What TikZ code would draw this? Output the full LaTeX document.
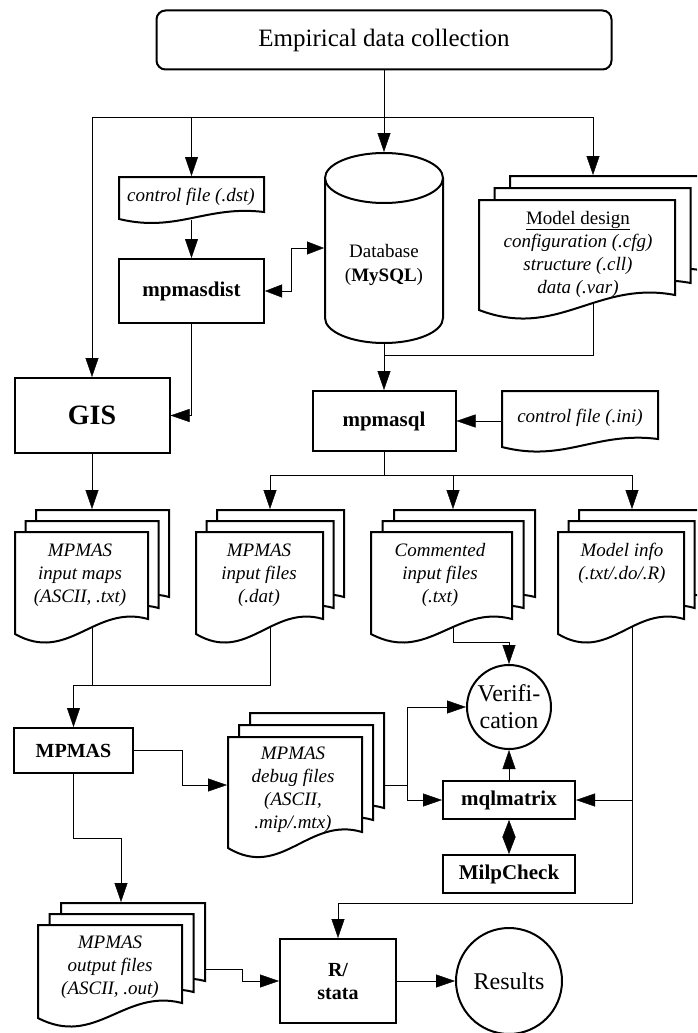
\documentclass[tikz,border=0pt]{standalone}
\usepackage{fontspec}
\setmainfont{Liberation Serif}
\usetikzlibrary{arrows.meta,fit,backgrounds}
\tikzset{
 arr/.style={-{Triangle[length=19pt,width=13pt]}},
 darr/.style={{Triangle[length=17pt,width=13pt]}-{Triangle[length=17pt,width=13pt]}},
 box/.style={draw, rectangle, inner sep=0pt, font=\fontsize{21}{25}\selectfont\bfseries},
 pg/.style={draw, fill=white},
 txt/.style={align=center, font=\fontsize{19}{23}\selectfont\itshape, inner sep=0pt},
}
\newcommand\docpg[6]{%
 \pgfmathsetmacro\pgXa{#2}\pgfmathsetmacro\pgYa{#3}\pgfmathsetmacro\pgXb{#4}\pgfmathsetmacro\pgYb{#5}\pgfmathsetmacro\pgAm{#6}%
 \pgfmathsetmacro\pgCa{\pgXa+0.6*(\pgXb-\pgXa)}\pgfmathsetmacro\pgCb{\pgXa+0.4*(\pgXb-\pgXa)}%
 \draw[pg] (\pgXa,\pgYa) -- (\pgXb,\pgYa) -- (\pgXb,\pgYb-\pgAm) .. controls (\pgCa,\pgYb-2*\pgAm) and (\pgCb,\pgYb+2*\pgAm) .. (\pgXa,\pgYb) -- cycle;
 \node[inner sep=0pt, fit={(\pgXa,\pgYa) (\pgXb,\pgYb)}] (#1) {};}
\newcommand\docstack[8]{%
 \docpg{#1-b}{#2+2*#7}{#3-2*#8}{#4+2*#7}{#5-2*#8}{#6}%
 \docpg{#1-m}{#2+#7}{#3-#8}{#4+#7}{#5-#8}{#6}%
 \docpg{#1}{#2}{#3}{#4}{#5}{#6}}
\begin{document}
\begin{tikzpicture}[x=1pt,y=-1pt,line width=2pt]
\useasboundingbox (0,0) rectangle (697,1033);
\clip (0,0) rectangle (697,1033);
% top
\node[draw, rounded corners=9pt, minimum width=455pt, minimum height=59pt, font=\fontsize{25}{30}\selectfont] (emp) at (384,40) {Empirical data collection};
% control file dst
\docpg{dst}{119}{177}{264}{219}{7}
\node[txt] (dstt) at (191,197) {control file (.dst)};
\node[box, minimum width=145pt, minimum height=64pt] (dist) at (191.5,291) {mpmasdist};
% database
\draw[pg] (325,178) -- (325,318) arc[start angle=180, end angle=0, x radius=59, y radius=25] -- (443,178);
\draw[pg] (384,178) ellipse[x radius=59, y radius=25];
\node[inner sep=0pt, minimum width=118pt, minimum height=190pt] (db) at (384,248) {};
\node[align=center, inner sep=0pt, font=\fontsize{19}{24}\selectfont] (dbt) at (384,265) {Database\\(\textbf{MySQL})};
% model design
\docstack{md}{479}{200}{675}{310}{15}{15.5}{12}
\node[align=center, inner sep=0pt, font=\fontsize{19}{23}\selectfont] (mdt) at (578,254) {\underline{Model design}\\\textit{configuration (.cfg)}\\\textit{structure (.cll)}\\\textit{data (.var)}};
% GIS, mpmasql, ini
\node[box, minimum width=155pt, minimum height=75pt, font=\fontsize{28}{30}\selectfont\bfseries] (gis) at (92,415.5) {GIS};
\node[box, minimum width=143pt, minimum height=60pt] (sql) at (384,421) {mpmasql};
\docpg{ini}{502}{391}{658}{447}{8}
\node[txt] (init) at (580,418) {control file (.ini)};
% row 2 stacks
\docstack{maps}{15}{532}{148}{634}{15}{10.5}{11}
\node[txt] (mapst) at (80,575) {MPMAS\\input maps\\(ASCII, .txt)};
\docstack{files}{196}{532}{323}{634}{15}{10.5}{11}
\node[txt] (filest) at (259,575) {MPMAS\\input files\\(.dat)};
\docstack{comm}{371}{532}{512}{634}{15}{11.5}{11}
\node[txt] (commt) at (440,575) {Commented\\input files\\(.txt)};
\docstack{info}{558}{532}{684}{634}{15}{10.5}{11}
\node[txt] (infot) at (622,563.5) {Model info\\(.txt/.do/.R)};
% row 3
\node[box, minimum width=119pt, minimum height=45pt, font=\fontsize{20}{24}\selectfont\bfseries] (mpmas) at (73.5,750.5) {MPMAS};
\docstack{debug}{228}{737}{362}{848}{16}{11}{12}
\node[txt] (debugt) at (293,790) {MPMAS\\debug files\\(ASCII,\\.mip/.mtx)};
\node[draw, circle, minimum size=84pt, inner sep=0pt, align=center, font=\fontsize{24}{27}\selectfont] (verif) at (509,707) {Verifi-\\cation};
\node[box, minimum width=132pt, minimum height=38pt] (mql) at (509,800) {mqlmatrix};
\node[box, minimum width=132pt, minimum height=38pt] (milp) at (509,874) {MilpCheck};
% row 4
\docstack{out}{38}{925}{182}{1018}{15}{11.5}{11}
\node[txt] (outt) at (110,967) {MPMAS\\output files\\(ASCII, .out)};
\node[box, minimum width=116pt, minimum height=84pt, align=center, font=\fontsize{20}{23}\selectfont\bfseries] (rst) at (338,981) {R/\\stata};
\node[draw, circle, minimum size=106pt, inner sep=0pt, font=\fontsize{24}{27}\selectfont] (res) at (509,981) {Results};
% connectors
\coordinate (jl) at (92,117);
\coordinate (jr) at (593,117);
\coordinate (jdb) at (384,355);
\coordinate (j2l) at (270,475);
\coordinate (j2c) at (453,475);
\coordinate (j2r) at (632,475);
\coordinate (j3) at (73.5,685);
\coordinate (j4) at (632,903);
\coordinate (j5) at (407,785);
\coordinate (j6) at (121,838);
\coordinate (j7) at (242,969);
\begin{scope}[on background layer]
\draw[arr] (emp.south) -- (db.north);
\draw (jl) -- (jr);
\draw[arr] (jl) -- (jl |- gis.north);
\draw[arr] (dst.north |- jl) -- (dst.north);
\draw[arr] (jr) -- (jr |- md-b.north);
\draw[arr] (dst.south) -- (dist.north);
\draw[darr] (dist.east) -- ++(26,0) |- (db.west);
\draw (jr |- md) |- (jdb);
\draw[arr] (db.south) -- (sql.north);
\draw[arr] (ini.west |- sql.east) -- (sql.east);
\draw[arr] (dist.south) |- (gis.east);
\draw[arr] (gis.south) -- (gis.south |- maps-b.north);
\draw (sql.south) -- (sql.south |- j2l);
\draw (j2l) -- (j2r);
\draw[arr] (j2l) -- (j2l |- files-b.north);
\draw[arr] (j2c) -- (j2c |- comm-b.north);
\draw[arr] (j2r) -- (j2r |- info-b.north);
\draw (gis.south |- maps) |- (j3);
\draw (j2l |- files) |- (j3);
\draw[arr] (j3) -- (mpmas.north);
\draw[arr] (j2c |- comm) -- ++(0,59) -| (verif.north);
\draw[arr] (j2r |- info) -- (j4) -| (rst.north);
\draw[arr] (j2r |- mql.east) -- (mql.east);
\draw[arr] (mpmas.east) -- ++(48,0) |- (debug.west |- j5);
\draw (debug-b.east |- j5) -- (j5);
\draw[arr] (j5) |- (verif.west);
\draw[arr] (j5) |- (mql.west);
\draw[arr] (mql.north) -- (verif.south);
\draw[darr] (mql.south) -- (milp.north);
\draw[arr] (mpmas.south) |- (j6) -- (j6 |- out-b.north);
\draw (out-b.east |- j7) -- (j7);
\draw[arr] (j7) |- (rst.west);
\draw[arr] (rst.east) -- (res.west);
\end{scope}
\end{tikzpicture}
\end{document}
